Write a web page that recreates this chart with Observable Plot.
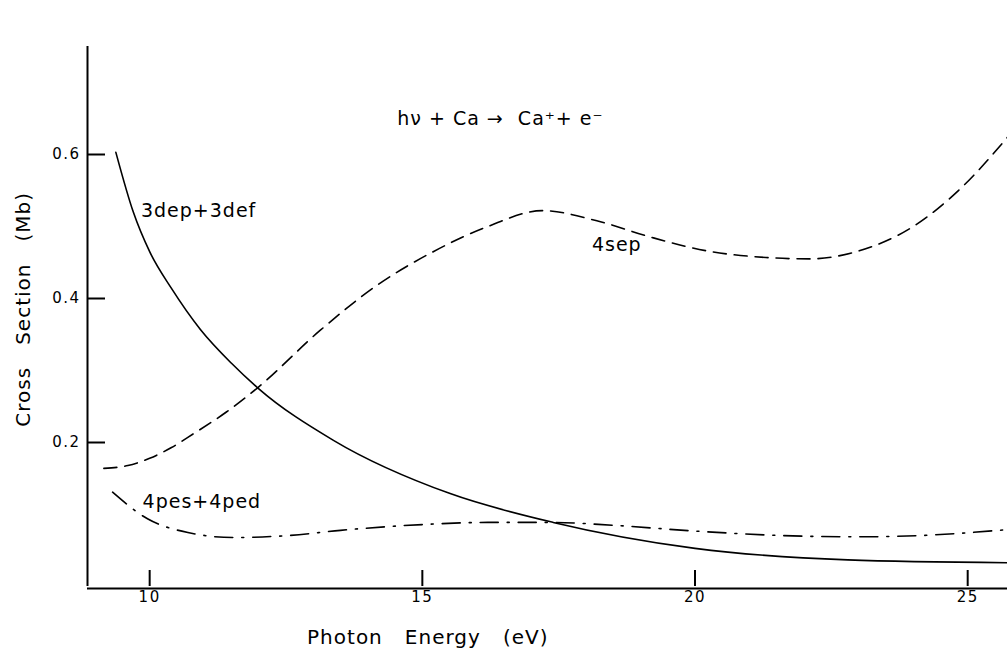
<!DOCTYPE html>
<html><head><meta charset="utf-8">
<script src="https://cdn.jsdelivr.net/npm/d3@7"></script>
<script src="https://cdn.jsdelivr.net/npm/@observablehq/plot@0.6"></script>
<style>
body{margin:0;background:#fff;}
svg text{white-space:pre;}
svg g[aria-label="text"] text{letter-spacing:1px;}
svg g[aria-label="y-axis tick label"] text, svg g[aria-label="x-axis tick label"] text{letter-spacing:1.5px;}
</style></head><body><div id="chart"></div><script>
// Ticks
const xTicks = [10, 15, 20, 25];
const yTicks = [0.2, 0.4, 0.6];
const xDomain = [8.86, 25.73];
const yDomain = [0, 0.75];

// 3dep+3def (solid)
const solidE = [9.38, 9.7, 10.0, 10.4, 10.93, 11.5, 11.98, 13.37, 15.51, 17.4, 20, 22.8, 25.73];
const solidV = [0.603, 0.52, 0.465, 0.414, 0.357, 0.31, 0.276, 0.203, 0.129, 0.089, 0.053, 0.037, 0.033];

// 4sep (dashed)
const dashE = [9.16, 9.6, 10.0, 10.4, 10.8, 11.4, 11.98, 13.13, 14.2, 15.2, 16.2, 17.2, 18.2, 19.2, 20.3, 21.3, 22.1, 23.0, 24.0, 24.9, 25.73];
const dashV = [0.164, 0.168, 0.178, 0.193, 0.212, 0.242, 0.276, 0.356, 0.420, 0.465, 0.500, 0.522, 0.508, 0.485, 0.465, 0.457, 0.455, 0.466, 0.500, 0.555, 0.624];

// 4pes+4ped (dash-dot)
const ddE = [9.32, 9.96, 10.7, 11.54, 12.58, 13.5, 15, 16.2, 17.4, 18.5, 20, 21.5, 23, 24.2, 25.73];
const ddV = [0.131, 0.094, 0.075, 0.068, 0.071, 0.078, 0.086, 0.089, 0.089, 0.085, 0.077, 0.071, 0.069, 0.071, 0.079];

// Annotations
const labelText = ["h\u03bd + Ca \u2192  Ca\u207a+ e\u207b", "3dep+3def", "4sep", "4pes+4ped"];
const labelE = [14.54, 9.84, 18.11, 9.87];
const labelV = [0.65, 0.521, 0.474, 0.117];

const zip = (xs, ys) => xs.map((x, i) => ({x, y: ys[i]}));
const solid = zip(solidE, solidV);
const dashed = zip(dashE, dashV);
const dashdot = zip(ddE, ddV);
const labels = labelText.map((t, i) => ({t, x: labelE[i], y: labelV[i]}));

const W = 1007, H = 651, mL = 87, mR = 0, mT = 46, mB = 65;
const yTickLen = 18, xTickLen = 16;
const font = "DejaVu Sans";
const chart = Plot.plot({
  width: W, height: H,
  marginLeft: mL, marginRight: mR, marginTop: mT, marginBottom: mB,
  x: {domain: xDomain},
  y: {domain: yDomain},
  style: {fontFamily: font, background: "white", color: "black"},
  marks: [
    Plot.axisY(yTicks, {tickSize: 0, tickPadding: 7, fontSize: 15, label: null, tickFormat: d => d.toFixed(1)}),
    Plot.axisX(xTicks, {tickSize: 0, tickPadding: 5, fontSize: 15, label: null}),
    Plot.ruleY(yTicks, {x1: xDomain[0], x2: xDomain[1], insetRight: (W - mL - mR) - yTickLen, strokeWidth: 2}),
    Plot.ruleX(xTicks, {y1: yDomain[1], y2: yDomain[0], insetTop: (H - mT - mB) - xTickLen, strokeWidth: 2}),
    Plot.ruleX([xDomain[0]], {y1: yDomain[0], y2: yDomain[1], strokeWidth: 2}),
    Plot.ruleY([0], {strokeWidth: 2, dy: 2}),
    Plot.line(solid, {x: "x", y: "y", curve: "monotone-x", stroke: "black", strokeWidth: 1.6}),
    Plot.line(dashed, {x: "x", y: "y", curve: "monotone-x", stroke: "black", strokeWidth: 1.6, strokeDasharray: "13,8"}),
    Plot.line(dashdot, {x: "x", y: "y", curve: "monotone-x", stroke: "black", strokeWidth: 1.6, strokeDasharray: "18,9,2,9"}),
    Plot.text(labels, {x: "x", y: "y", text: "t", textAnchor: "start", fontSize: 19, fill: "black"}),
    Plot.text(["Photon   Energy   (eV)"], {x: 15.1, frameAnchor: "bottom", textAnchor: "middle", lineAnchor: "middle", dy: 51, text: d => d, fontSize: 20, fill: "black"}),
    Plot.text(["Cross   Section   (Mb)"], {y: 0.385, frameAnchor: "left", textAnchor: "middle", lineAnchor: "middle", dx: -64, rotate: -90, text: d => d, fontSize: 20, fill: "black"})
  ]
});
document.getElementById("chart").appendChild(chart);
</script></body></html>
